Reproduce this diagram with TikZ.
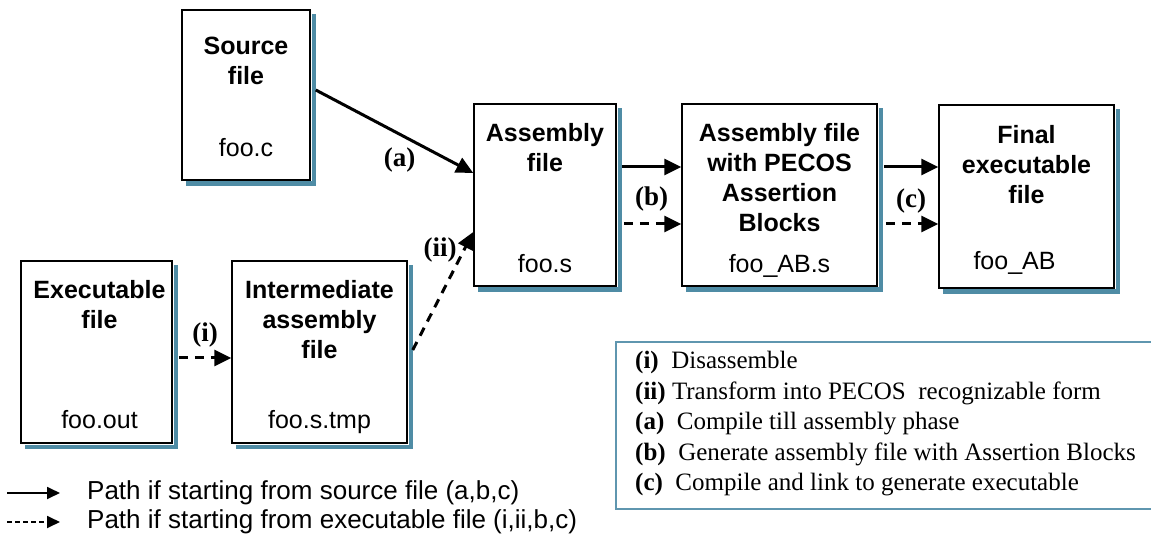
\documentclass[tikz,border=0pt]{standalone}
\usepackage{fontspec}
\setmainfont{Liberation Sans}
\newfontfamily\timesfont{Liberation Serif}
\usetikzlibrary{positioning,arrows.meta}
\definecolor{shadowblue}{RGB}{79,140,165}
\definecolor{legendblue}{RGB}{95,150,175}

\begin{document}
\begin{tikzpicture}[x=1pt,y=-1pt,
	box/.style={draw, line width=1.5pt, fill=white},
	title/.style={font=\fontsize{25}{30}\selectfont\bfseries, align=center, inner sep=0pt},
	fname/.style={font=\fontsize{25}{30}\selectfont, inner sep=0pt, text depth=0pt},
	lbl/.style={font=\timesfont\fontsize{27}{30}\selectfont\bfseries, inner sep=0pt},
	flow/.style={line width=3pt, -{Triangle[length=17pt,width=16pt]}},
	flowd/.style={flow, dash pattern=on 9pt off 7pt},
	key/.style={line width=1.8pt, -{Triangle[length=13pt,width=12pt]}},
	keytext/.style={font=\fontsize{26}{30}\selectfont, inner sep=0pt, anchor=west}]
\useasboundingbox (0,0) rectangle (1151,534);

% file boxes
\node(src)	[box, minimum width=128, minimum height=170] at (246,95) {};
\node(asm)	[box, minimum width=142, minimum height=182] at (545,195) {};
\node(ab)	[box, minimum width=195, minimum height=182] at (779.5,195) {};
\node(fin)	[box, minimum width=175, minimum height=183] at (1026.5,196.5) {};
\node(exe)	[box, minimum width=151, minimum height=182] at (96.5,352) {};
\node(tmp)	[box, minimum width=175, minimum height=182] at (319.5,352) {};

% shadows, right and bottom
\foreach \bx in {src,asm,ab,fin,exe,tmp}{
	\fill[shadowblue] ([xshift=5pt,yshift=-5pt]\bx.south west) rectangle ([xshift=5pt,yshift=-0.75pt]\bx.south east);
	\fill[shadowblue] ([xshift=0.75pt,yshift=-5pt]\bx.south east) rectangle ([xshift=5pt,yshift=-5pt]\bx.north east);
}

\node(srcT)	[title, below=28pt of src.north] {Source\\file};
\node(asmT)	[title, below=20pt of asm.north] {Assembly\\file};
\node(abT)	[title, below=20pt of ab.north] {Assembly file\\with PECOS\\Assertion\\Blocks};
\node(finT)	[title, below=21pt of fin.north] {Final\\executable\\file};
\node(exeT)	[title, below=20pt of exe.north, xshift=3pt] {Executable\\file};
\node(tmpT)	[title, below=20pt of tmp.north] {Intermediate\\assembly\\file};

\node(srcF)	[fname, above=24pt of src.south] {foo.c};
\node(asmF)	[fname, above=14pt of asm.south] {foo.s};
\node(abF)	[fname, above=14pt of ab.south] {foo\_AB.s};
\node(finF)	[fname, above=19pt of fin.south, xshift=-12pt] {foo\_AB};
\node(exeF)	[fname, above=15pt of exe.south, xshift=3pt] {foo.out};
\node(tmpF)	[fname, above=15pt of tmp.south] {foo.s.tmp};

% paths
\draw[flow] ([xshift=5pt,yshift=5pt]src.east) -- ([yshift=22pt]asm.west)
	node [lbl, midway, below=15pt, xshift=5pt] {(a)};
\draw[flowd] ([xshift=5pt,yshift=2pt]tmp.east) -- ([yshift=-37pt]asm.west)
	node [lbl, pos=0.85, left=6pt] {(ii)};
\draw[flowd] ([xshift=6pt,yshift=-6pt]exe.east) -- ([yshift=-6pt]tmp.west)
	node [lbl, midway, above=9pt] {(i)};
\draw[flow] ([xshift=5pt,yshift=28pt]asm.east) -- ([yshift=28pt]ab.west)
	node [lbl, midway, below=18pt] {(b)};
\draw[flowd] ([xshift=7pt,yshift=-29pt]asm.east) -- ([yshift=-29pt]ab.west);
\draw[flow] ([xshift=6pt,yshift=28pt]ab.east) -- ([yshift=29.5pt]fin.west)
	node [lbl, midway, below=20pt] {(c)};
\draw[flowd] ([xshift=8pt,yshift=-29pt]ab.east) -- ([yshift=-27.5pt]fin.west);

% legend
\coordinate(s0) at (7,493);
\coordinate(s1) at (60,493);
\coordinate(d0) at (7,522);
\coordinate(d1) at (60,522);
\draw[key] (s0) -- (s1);
\draw[key, dash pattern=on 5pt off 3pt] (d0) -- (d1);
\node(sT)	[keytext, right=27pt of s1] {Path if starting from source file (a,b,c)};
\node(dT)	[keytext, right=27pt of d1] {Path if starting from executable file (i,ii,b,c)};

\draw[legendblue, line width=1.5pt] (1151,342) -| (616,509) -- (1151,509);
\node(steps) [anchor=north west, align=left, inner sep=0pt,
	font=\timesfont\fontsize{25}{30.5}\selectfont] at (635,351)
	{\textbf{(i)}\ \ Disassemble\\
	\textbf{(ii)} Transform into PECOS\ \ recognizable form\\
	\textbf{(a)}\ \ Compile till assembly phase\\
	\textbf{(b)}\ \ Generate assembly file with Assertion Blocks\\
	\textbf{(c)}\ \ Compile and link to generate executable};
\end{tikzpicture}
\end{document}
